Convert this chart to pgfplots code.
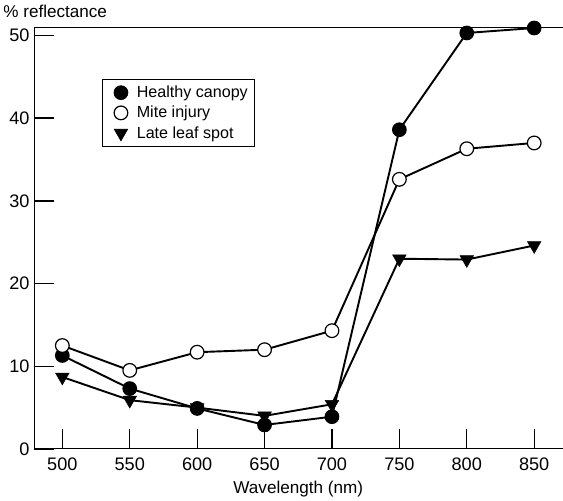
\documentclass[border=0pt]{standalone}
\usepackage{fontspec}
\setmainfont{Liberation Sans}
\usepackage{pgfplots}
\pgfplotsset{compat=1.18}

\begin{document}
\begin{tikzpicture}
\begin{axis}[
  scale only axis,
  width=525pt, height=419pt,
  xmin=479, xmax=871,
  ymin=0, ymax=51,
  axis lines*=left,
  axis line style={-, line width=1pt},
  xtick pos=left, ytick pos=left,
  tick align=inside,
  major tick length=20pt,
  major tick style={black, line width=1.2pt},
  ytick style={black, line width=1.4pt},
  xtick={500,550,...,850},
  ytick={0,10,...,50},
  /pgf/number format/assume math mode=true,
  ticklabel style={font=\fontsize{18}{21}\selectfont},
  xticklabel style={yshift=-5pt},
  yticklabel style={xshift=-1pt},
  xlabel={Wavelength (nm)},
  xlabel style={font=\fontsize{17}{20}\selectfont, yshift=-4pt},
  every axis y label/.style={at={(axis description cs:0,1)}, anchor=south west,
    xshift=-34pt, yshift=6pt, font=\fontsize{17}{20}\selectfont},
  ylabel={\% reflectance},
  legend style={at={(rel axis cs:0.128,0.878)}, anchor=north west,
    font=\fontsize{16}{19}\selectfont, draw=black, line width=0.8pt,
    row sep=3pt, inner xsep=5pt, inner ysep=5pt},
  legend cell align=left,
  legend image code/.code={%
    \draw[#1, mark repeat=2, mark phase=2, draw opacity=0]
      plot coordinates {(0cm,0cm) (0.45cm,0cm) (0.9cm,0cm)};},
  every axis plot/.append style={line width=1.9pt, black},
  clip=false,
]
% healthy canopy
\addplot[mark=*, mark size=6.8pt, mark options={fill=black, line width=1pt, draw opacity=1}]
  coordinates {(500,11.3) (550,7.3) (600,4.9) (650,2.9) (700,3.9) (750,38.6) (800,50.3) (850,50.9)};
\addlegendentry{Healthy canopy}
% mite injury
\addplot[mark=*, mark size=6.8pt, mark options={fill=white, line width=1.2pt, draw opacity=1}]
  coordinates {(500,12.5) (550,9.5) (600,11.7) (650,12.0) (700,14.3) (750,32.6) (800,36.3) (850,37.0)};
\addlegendentry{Mite injury}
% late leaf spot
\addplot[mark=triangle*, mark size=7.8pt, mark options={fill=black, rotate=180, line width=0.5pt, draw opacity=1}]
  coordinates {(500,8.7) (550,5.9) (600,5.0) (650,4.0) (700,5.4) (750,23.0) (800,22.9) (850,24.6)};
\addlegendentry{Late leaf spot}
% top line of the frame, open on the right
\draw[line width=1pt] (rel axis cs:0,1) -- (rel axis cs:1,1);
% blank margin above the axis title
\path (rel axis cs:0,1) ++(0pt,27pt);
\end{axis}
\end{tikzpicture}
\end{document}
